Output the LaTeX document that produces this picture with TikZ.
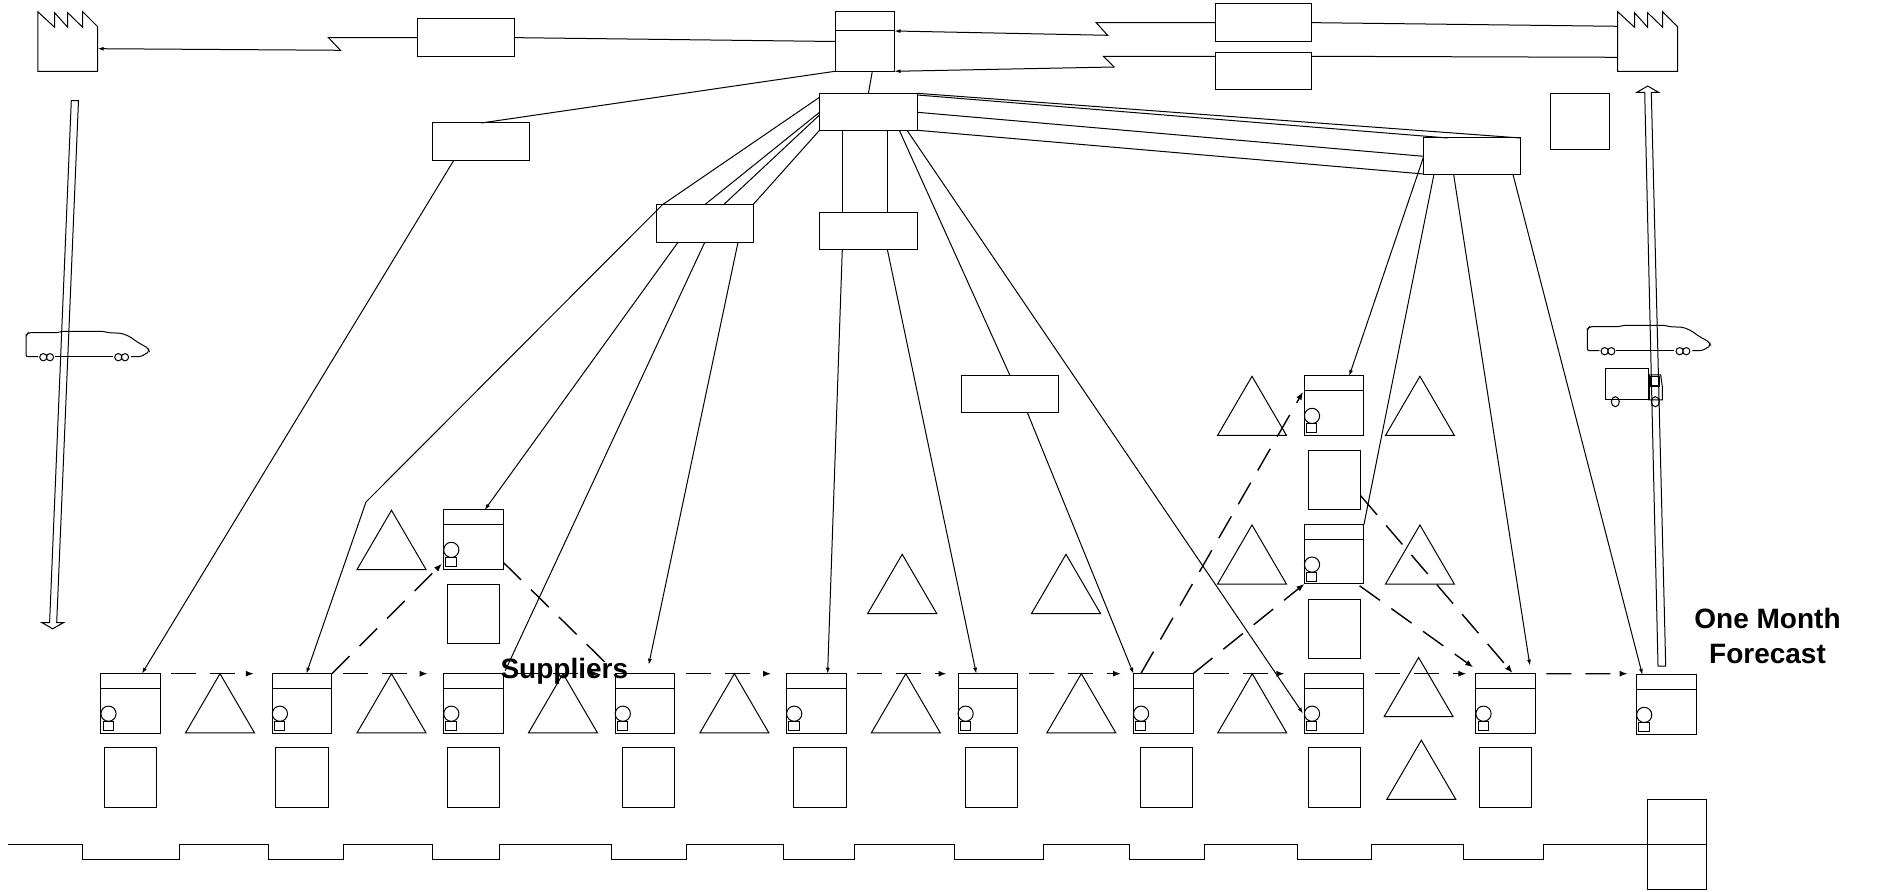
\documentclass[tikz,border=0pt]{standalone}
\usepackage{fontspec}
\setmainfont{Liberation Sans}
\usetikzlibrary{calc,arrows.meta}
\tikzset{
  thin line/.style={line width=0.5pt,line join=miter},
  box/.style={draw,thin line,shape=rectangle,inner sep=0pt,outer sep=0pt},
  ghost/.style={shape=rectangle,inner sep=0pt,outer sep=0pt},
  opcircle/.style={draw,thin line,shape=ellipse,inner sep=0pt,outer sep=0pt,minimum width=7.6pt,minimum height=7.6pt},
  info/.style={thin line,-{Latex[length=3pt,width=2pt]}},
  plain/.style={thin line},
  flow/.style={line width=0.7pt,dash pattern=on 12.5pt off 7pt,dash phase=14pt,-{Latex[length=4pt,width=3pt]}},
  flowplain/.style={line width=0.7pt,dash pattern=on 12.5pt off 7pt,dash phase=14pt},
  label/.style={font=\bfseries\fontsize{14pt}{17.5pt}\selectfont,align=center,inner sep=0pt}
}
\usetikzlibrary{shapes.geometric}
\newcommand{\nbox}[5]{\node[box,minimum width={(#4-#2)*0.5pt},minimum height={(#5-#3)*0.5pt}] (#1) at ({(#2+#4)/2},{(#3+#5)/2}) {};}
\newcommand{\wcell}[3]{%
  \node[box,anchor=north west,minimum width=29.75pt,minimum height=29.65pt] (#1) at (#2,#3) {};
  \draw[plain] ($(#1.north west)+(0,14.4)$) -- ($(#1.north east)+(0,14.4)$);
  \node[opcircle] (#1op) at ($(#1.north west)+(7.6,40)$) {};
  \node[box,anchor=north west,minimum width=5.1pt,minimum height=4.35pt] (#1st) at ($(#1.north west)+(2.2,48)$) {};
}
\newcommand{\dbox}[3]{\node[box,anchor=north west,minimum width=26.1pt,minimum height=29.8pt] (#1) at (#2,#3) {};}
\newcommand{\tri}[3]{\draw[plain] (#2,#3) -- ({#2+34.5},{#3+59.2}) -- ({#2-34.5},{#3+59.2}) -- cycle;\coordinate (#1) at (#2,#3);}
\newcommand{\factory}[2]{%
  \node[ghost,anchor=north west,minimum width=29.95pt,minimum height=29.8pt] (#1) at (#2,11.7) {};
  \draw[plain] (#2,11.7) -- ({#2+16.8},27.3) -- ({#2+16.8},12.7) -- ({#2+29.9},27.3) -- ({#2+29.9},12.7) -- ({#2+44.9},27.3) -- ({#2+44.9},11.7) -- ({#2+59.9},26.7) -- ({#2+59.9},71.3) -- (#2,71.3) -- cycle;
}
\newcommand{\train}[3]{%
  \begin{scope}[shift={(#2,#3)}]
    \coordinate (#1) at (26,345);
    \draw[plain,rounded corners=1pt] (38,356.7) -- (26,356.7) -- (26,335) -- (28.3,332.7) -- (58.3,332.7) -- (61.7,331.3) -- (103.3,331.3) -- (108.3,332.7) -- (121.7,333.3) -- (130,336.7) -- (136.7,341.7) -- (148.3,348.3) -- (149.3,351.7) -- (140.7,356.7) -- (131,356.7);
    \draw[plain] (55,356.7) -- (113,356.7);
    \draw[plain] (43.3,357.2) circle[radius=3.6] (50,357.2) circle[radius=3.6] (118.3,357.2) circle[radius=3.6] (125,357.2) circle[radius=3.6];
  \end{scope}
}
\begin{document}
\begin{tikzpicture}[x=0.5pt,y=-0.5pt]
\useasboundingbox (0,0) rectangle (1882,892);
% factories
\factory{fL}{37.8}
\factory{fR}{1617.7}
% control + boxes
\nbox{ctrl}{835}{11.7}{894.5}{71.3}
\draw[plain] ($(ctrl.north west)+(0,19.3)$) -- ($(ctrl.north east)+(0,19.3)$);
\nbox{bTopL}{417.9}{19}{514.4}{56.3}
\nbox{bTopR}{1215.2}{4}{1311.9}{41.3}
\nbox{bTopR2}{1215.2}{52.3}{1311.9}{89.7}
\nbox{bSq}{1550.4}{93.3}{1609.9}{150}
\nbox{bLeft}{432.9}{123}{529.4}{160.3}
\nbox{bHub}{819.5}{93.3}{917.3}{130.3}
\nbox{bMidL}{656.5}{204.7}{753}{242.3}
\nbox{bMid}{819.5}{212.3}{917.3}{249.3}
\nbox{bCR}{961.5}{375.7}{1058.6}{412.9}
\nbox{bHubR}{1423.6}{138}{1520.4}{175}
% bottom box
\nbox{bEnd}{1647.3}{799.4}{1706.9}{889}
\draw[plain] ($(bEnd.west)$) -- ($(bEnd.east)$);
% work cells
\wcell{cA}{100.9}{673.7}
\wcell{cB}{272.3}{673.7}
\wcell{cC}{443.7}{673.7}
\wcell{cD}{615.2}{673.7}
\wcell{cE}{786.6}{673.7}
\wcell{cF}{958}{673.7}
\wcell{cG}{1133.5}{673.7}
\wcell{cH}{1304.4}{673.7}
\wcell{cI}{1475.9}{673.7}
\wcell{cJ}{1636.6}{674.9}
\wcell{cU}{443.7}{509.9}
\wcell{cT}{1304.4}{375.9}
\wcell{cM}{1304.4}{524.6}
% data boxes
\dbox{dA}{104.5}{747.7}
\dbox{dB}{275.9}{747.7}
\dbox{dC}{447.3}{747.7}
\dbox{dD}{622.3}{747.7}
\dbox{dE}{793.8}{747.7}
\dbox{dF}{965.6}{747.7}
\dbox{dG}{1140.6}{747.7}
\dbox{dH}{1308.5}{747.7}
\dbox{dI}{1479.5}{747.7}
\dbox{dU}{447.3}{584.3}
\dbox{dT}{1308.5}{450.2}
\dbox{dM}{1308.5}{599}
% triangles
\tri{t1}{220}{673.7}
\tri{t2}{391.5}{673.7}
\tri{t3}{563}{673.7}
\tri{t4}{734.4}{673.7}
\tri{t5}{905.8}{673.7}
\tri{t6}{1081.3}{673.7}
\tri{t7}{1252.2}{673.7}
\tri{t8}{391.5}{510.3}
\tri{t9}{902.2}{554.3}
\tri{t10}{1066}{554.3}
\tri{t11}{1252}{376.3}
\tri{t12}{1419.9}{376.3}
\tri{t13}{1252}{525}
\tri{t14}{1419.9}{525}
\tri{t15}{1418.6}{657.5}
\tri{t16}{1421.3}{740.2}
% timeline
\coordinate (tlStart) at (7.6,844.4);
\draw[plain] (tlStart) -- (82.6,844.4) |- (179.5,859) |- (268.8,844.4) |- (343.3,859) |- (432.6,844.4) |- (499.6,859) |- (611.6,844.4) |- (686.2,859) |- (783,844.4) |- (854.5,859) |- (954.5,844.4) |- (1043.8,859) |- (1129,844.4) |- (1204.8,859) |- (1297.5,844.4) |- (1371.6,859) |- (1463.8,844.4) |- (1543,859) |- (bEnd.west);
% top connectors
\coordinate (zA) at (328.5,37.7);
\coordinate (zB) at (340.5,50.3);
\draw[info] (bTopL.west) -- (zA) -- (zB) -- ($(fL.north east)+(0,37)$);
\draw[plain] (bTopL.east) -- (ctrl.west);
\coordinate (zC) at (1096.2,22.7);
\coordinate (zD) at (1107.6,35.3);
\draw[info] (bTopR.west) -- (zC) -- (zD) -- ($(ctrl.north east)+(0,19.3)$);
\coordinate (zE) at (1103.4,56.3);
\coordinate (zF) at (1114.2,67);
\draw[info] (bTopR2.west |- zE) -- (zE) -- (zF) -- (ctrl.south east);
\draw[plain] (bTopR.east) -- ($(fR.north west)+(0,14.6)$);
\draw[plain] ($(bTopR2.north east)+(0,4)$) -- ($(fR.north west)+(0,45.6)$);
\draw[plain] (ctrl.south west) -- (bLeft.north);
\draw[plain] ($(ctrl.south west)+(37.3,0)$) -- (bHub.north);
% hub to left
\coordinate (bend1) at ($(bMidL.north west)+(6,0)$);
\coordinate (bend2) at (366,502);
\draw[info] ($(bHub.north west)+(0,4)$) -- (bend1) -- (bend2) -- ($(cB.north west)+(34,0)$);
\draw[plain] ($(bHub.north west)+(0,19)$) -- (bMidL.north);
\draw[plain] ($(bHub.north west)+(0,21.7)$) -- ($(bMidL.north west)+(67.1,0)$);
\draw[plain] (bHub.south west) -- (bMidL.north east);
\draw[info] ($(bLeft.south west)+(20.9,0)$) -- ($(cA.north west)+(41,0)$);
\draw[info] ($(bMidL.south west)+(21.5,0)$) -- ($(cU.north west)+(41,0)$);
\draw[plain] (bMidL.south) -- ($(cC.north east)+(2,-3)$);
\coordinate (dEnd) at ($(cD.north west)+(33.5,-9)$);
\draw[info] ($(bMidL.south west)+(81.5,0)$) -- (dEnd);
% hub to mid
\draw[plain] ($(bHub.south west)+(22.8,0)$) -- ($(bMid.north west)+(22.8,0)$);
\draw[plain] ($(bHub.south west)+(67.8,0)$) -- ($(bMid.north west)+(67.8,0)$);
\draw[info] ($(bMid.south west)+(22.8,0)$) -- ($(cE.north west)+(41,0)$);
\draw[info] ($(bMid.south west)+(67.8,0)$) -- ($(cF.north west)+(18.3,0)$);
\draw[plain] ($(bHub.south west)+(79.8,0)$) -- (bCR.north);
\draw[info] ($(bCR.south west)+(66,0)$) -- (cG.north west);
\draw[info] ($(bHub.south west)+(87.5,0)$) -- ($(cH.north west)+(-1.4,39.8)$);
% hub to right
\draw[plain] (bHub.north east) -- (bHubR.north east);
\draw[plain] ($(bHub.north east)+(0,1.7)$) -- ($(bHubR.north west)+(24,0)$);
\draw[plain] ($(bHub.north east)+(0,19)$) -- ($(bHubR.north west)+(0,18.3)$);
\draw[plain] (bHub.south east) -- ($(bHubR.south west)+(0,-1)$);
\draw[info] ($(bHubR.north west)+(0,18.7)$) -- ($(cT.north west)+(44.8,0)$);
\draw[plain] ($(bHubR.south west)+(10.2,0)$) -- (cM.north east);
\draw[info] ($(bHubR.south west)+(30.1,0)$) -- ($(cI.north west)+(54,-8)$);
\draw[info] ($(bHubR.south west)+(89.5,0)$) -- ($(cJ.north west)+(5.8,0)$);
% dashed flow along the row
\draw[flow] (cA.north east) -- ($(cB.north west)+(-18.5,0)$);
\draw[flow] (cB.north east) -- ($(cC.north west)+(-16,0)$);
\draw[flow] (cC.north east) -- ($(cD.north west)+(-16,0)$);
\draw[flow] (cD.north east) -- ($(cE.north west)+(-15.5,0)$);
\draw[flow] (cE.north east) -- ($(cF.north west)+(-11.5,0)$);
\draw[flow] (cF.north east) -- ($(cG.north west)+(-12.5,0)$);
\draw[flow] (cG.north east) -- ($(cH.north west)+(-20,0)$);
\draw[flow] (cH.north east) -- ($(cI.north west)+(-9.5,0)$);
\draw[flow] (cI.north east) -- ($(cJ.north west)+(-9,-1.2)$);
% dashed diagonals
\draw[flow,dash phase=0pt] (cB.north east) -- ($(cU.north west)+(-1.7,53.8)$);
\draw[flowplain,dash phase=0pt] ($(cU.north east)+(0,52.4)$) -- ($(cD.north west)+(-8.2,-9.5)$);
\draw[flow,dash phase=0pt] ($(cG.north west)+(7.5,-0.4)$) -- ($(cT.north west)+(-1.4,15.9)$);
\draw[flow,dash phase=0pt] (cG.north east) -- (cM.south west);
\draw[flow,dash phase=0pt] ($(cM.south east)+(-4.3,1.9)$) -- ($(cI.north west)+(-2.7,-6.4)$);
\draw[flow,dash phase=0pt] ($(dT.north east)+(0,45.6)$) -- ($(cI.north west)+(36.7,-0.6)$);
% push arrows
\coordinate (pL) at (71.3,100.7);
\coordinate (pLtip) at (52.7,628.8);
\draw[plain] (pL) -- (78.5,100.7) -- (56.7,622.7) -- (63.4,622.7) -- (pLtip) -- (42,622.7) -- (49.6,622.7) -- cycle;
\coordinate (pR) at (1658,666);
\coordinate (pRtip) at (1647.7,86);
\draw[plain] (pR) -- (1665.7,666) -- (1651.3,92.3) -- (1658.5,92.3) -- (pRtip) -- (1636.9,92.3) -- (1644.7,92.3) -- cycle;
% trains
\train{trL}{0}{0}
\train{trR}{1561.3}{-6}
% truck
\node[box,anchor=north west,minimum width=21.3pt,minimum height=15.65pt] (truck) at (1605.7,368.7) {};
\draw[plain] (1649.3,400) -- (1649.3,375) -- (1660.7,375) -- (1662.3,386.7) -- (1662.3,400) -- (truck.south east);
\node[box,anchor=north west,minimum width=4.3pt,minimum height=4.65pt,line width=0.8pt] (truckWin) at (1650.7,376.7) {};
\node[opcircle,minimum width=4pt,minimum height=5pt] (truckW1) at (1615.3,401.7) {};
\node[opcircle,minimum width=4pt,minimum height=5pt] (truckW2) at (1655.3,401.7) {};
% labels
\node[label] (lblSup) at (564.3,671) {Suppliers};
\node[label] (lblFc) at (1767.5,635.5) {One Month\\Forecast};
\end{tikzpicture}
\end{document}
